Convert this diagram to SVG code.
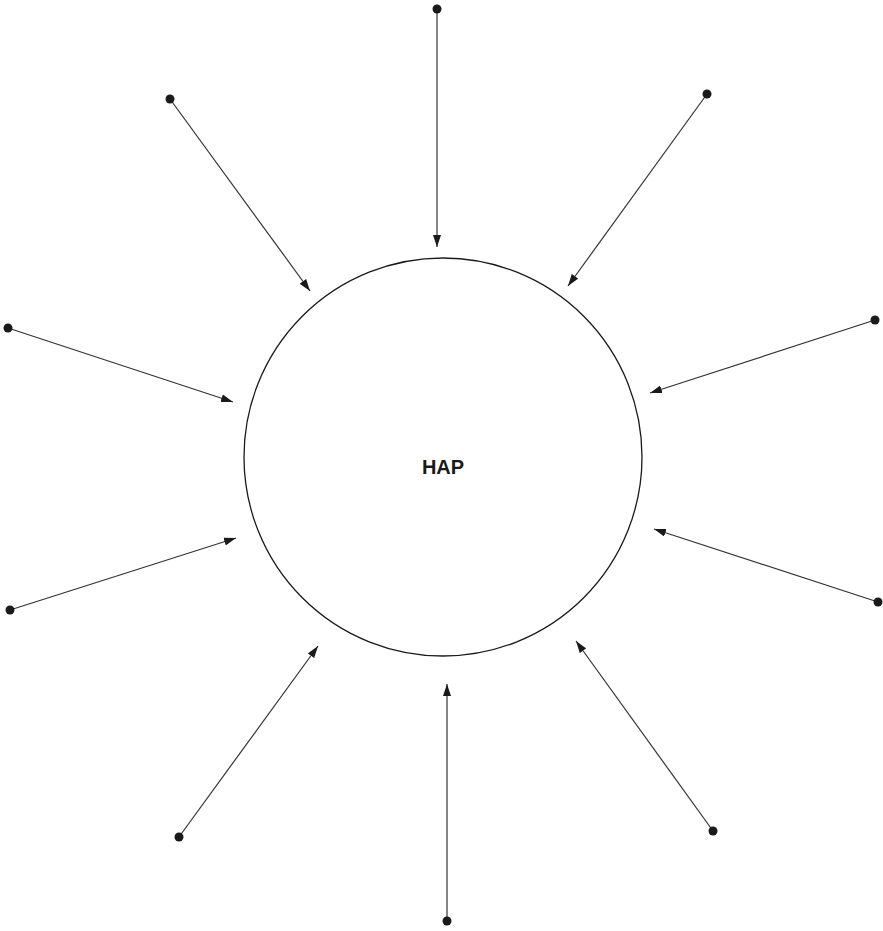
<svg xmlns="http://www.w3.org/2000/svg" width="883" height="931" viewBox="0 0 883 931">
<style>
.c{fill:none;stroke:#1a1a1a;stroke-width:1.3}
.l{stroke:#333;stroke-width:1.2;fill:none;marker-end:url(#ah)}
.d{fill:#1a1a1a}
.t{font-family:"Liberation Sans",Arial,sans-serif;font-weight:bold;font-size:20px;fill:#1a1a1a;text-anchor:middle}
</style>
<defs>
<marker id="ah" viewBox="0 0 12 8" refX="12" refY="4" markerWidth="12" markerHeight="8" markerUnits="userSpaceOnUse" orient="auto">
<path d="M0,0 L12,4 L0,8 Z" fill="#1a1a1a"/>
</marker>
</defs>
<rect width="883" height="931" fill="#fff"/>
<g id="hap">
<circle class="c" cx="443" cy="457" r="199"/>
<text class="t" x="443" y="474">HAP</text>
</g>
<g id="connectors">
<line class="l" x1="437" y1="9" x2="437" y2="247"/>
<line class="l" x1="707" y1="94" x2="568" y2="286"/>
<line class="l" x1="875" y1="320" x2="650" y2="393"/>
<line class="l" x1="878" y1="602" x2="654" y2="529"/>
<line class="l" x1="713" y1="831" x2="576" y2="641"/>
<line class="l" x1="447" y1="921" x2="447" y2="684"/>
<line class="l" x1="179" y1="837" x2="318" y2="646"/>
<line class="l" x1="10" y1="610" x2="236" y2="538"/>
<line class="l" x1="8" y1="328" x2="233" y2="402"/>
<line class="l" x1="170" y1="99" x2="310" y2="291"/>
</g>
<g id="dots">
<circle class="d" cx="437" cy="9" r="4.5"/>
<circle class="d" cx="707" cy="94" r="4.5"/>
<circle class="d" cx="875" cy="320" r="4.5"/>
<circle class="d" cx="878" cy="602" r="4.5"/>
<circle class="d" cx="713" cy="831" r="4.5"/>
<circle class="d" cx="447" cy="921" r="4.5"/>
<circle class="d" cx="179" cy="837" r="4.5"/>
<circle class="d" cx="10" cy="610" r="4.5"/>
<circle class="d" cx="8" cy="328" r="4.5"/>
<circle class="d" cx="170" cy="99" r="4.5"/>
</g>
</svg>
